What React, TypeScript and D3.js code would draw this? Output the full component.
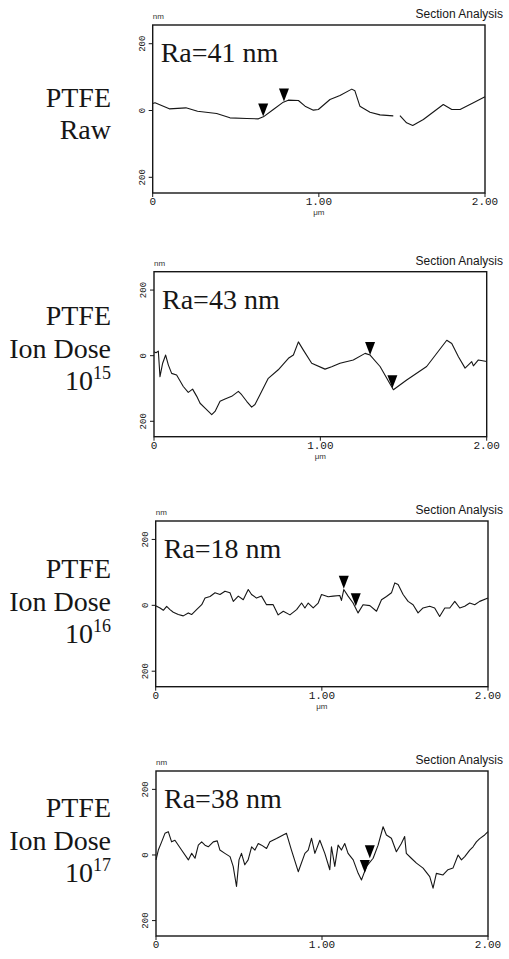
import React from "react";
import * as d3 from "d3";

type Pt = [number, number | null];

// ---- Data (x in µm, height in nm) ----
const rawProfile: Pt[] = [
  [0, 21], [0.014, 23], [0.1, 5], [0.2, 8], [0.27, -2], [0.385, -9], [0.465, -22],
  [0.566, -24], [0.636, -25], [0.666, -19], [0.726, 3], [0.786, 25], [0.816, 31],
  [0.877, 30], [0.917, 13], [0.967, 1], [0.997, 3], [1.067, 33], [1.127, 45],
  [1.198, 64], [1.217, 59], [1.247, 13], [1.308, -5], [1.368, -13], [1.448, -16],
  [1.468, null],
  [1.488, -15], [1.528, -37], [1.565, -45], [1.629, -27], [1.749, 18], [1.8, 3],
  [1.85, 3], [1.93, 23], [2.0, 41],
];
const dose15Profile: Pt[] = [
  [0, 12], [0.012, 9], [0.026, 14], [0.036, -64], [0.052, -23], [0.07, 2], [0.086, -28],
  [0.106, -54], [0.136, -59], [0.176, -94], [0.206, -112], [0.232, -102], [0.257, -124],
  [0.277, -145], [0.307, -160], [0.347, -180], [0.367, -170], [0.397, -139], [0.427, -132],
  [0.467, -124], [0.507, -109], [0.527, -119], [0.557, -139], [0.587, -157], [0.607, -149],
  [0.637, -119], [0.687, -69], [0.747, -43], [0.808, -8], [0.838, 2], [0.868, 42],
  [0.898, 17], [0.948, -23], [1.028, -41], [1.068, -34], [1.118, -23], [1.198, -13],
  [1.269, 7], [1.299, 2], [1.359, -33], [1.439, -104], [1.519, -74], [1.639, -33],
  [1.76, 47], [1.79, 37], [1.83, -3], [1.87, -38], [1.89, -28], [1.91, -18], [1.92, -31],
  [1.95, -13], [2.0, -18],
];
const dose16Profile: Pt[] = [
  [0, -1], [0.026, -8], [0.046, -15], [0.066, -3], [0.086, -13], [0.106, -21], [0.136, -28],
  [0.166, -32], [0.196, -23], [0.216, -28], [0.246, -13], [0.277, 2], [0.297, 22],
  [0.327, 27], [0.357, 38], [0.387, 33], [0.417, 43], [0.447, 38], [0.467, 12], [0.497, 28],
  [0.527, 17], [0.557, 48], [0.577, 33], [0.607, 22], [0.637, 28], [0.667, 2], [0.707, 2],
  [0.737, -29], [0.768, -18], [0.808, -29], [0.848, -13], [0.878, 7], [0.898, -8],
  [0.918, 7], [0.948, -8], [0.978, 7], [0.998, 33], [1.038, 26], [1.068, 28], [1.108, 30],
  [1.118, 15], [1.132, 48], [1.158, 28], [1.188, 7], [1.218, -23], [1.248, 2], [1.289, -1],
  [1.329, -18], [1.359, 17], [1.389, 27], [1.419, 38], [1.439, 68], [1.459, 63],
  [1.489, 33], [1.519, 12], [1.549, 2], [1.579, -23], [1.609, -8], [1.649, -3], [1.679, -8],
  [1.709, -34], [1.74, -8], [1.77, -8], [1.8, 12], [1.83, -8], [1.86, -3], [1.89, 7],
  [1.92, 2], [1.95, 12], [2.0, 22],
];
const dose17Profile: Pt[] = [
  [0, -15], [0.014, 15], [0.034, 40], [0.054, 66], [0.074, 71], [0.094, 40], [0.114, 45],
  [0.154, 15], [0.195, -15], [0.215, 5], [0.235, -10], [0.255, 30], [0.275, 40], [0.295, 30],
  [0.315, 25], [0.345, 40], [0.369, 43], [0.385, 15], [0.415, 5], [0.446, -5], [0.465, -35],
  [0.485, -96], [0.5, -15], [0.515, 5], [0.535, -30], [0.555, -15], [0.576, 25], [0.596, 15],
  [0.616, 35], [0.636, 30], [0.666, 20], [0.686, 40], [0.726, 50], [0.766, 61], [0.786, 66],
  [0.816, 15], [0.857, -51], [0.897, 5], [0.917, 15], [0.937, 51], [0.957, 5], [0.987, 45],
  [1.017, 5], [1.047, -45], [1.057, 25], [1.077, -35], [1.097, 30], [1.117, 15], [1.137, 35],
  [1.157, 5], [1.188, -15], [1.218, -56], [1.238, -76], [1.268, -35], [1.308, -10],
  [1.338, 30], [1.368, 86], [1.388, 61], [1.418, 51], [1.448, 10], [1.478, 35], [1.498, 56],
  [1.508, 5], [1.538, -10], [1.569, -25], [1.609, -40], [1.649, -66], [1.669, -101],
  [1.689, -56], [1.729, -61], [1.759, -45], [1.789, -40], [1.82, 0], [1.84, -15], [1.86, -5],
  [1.89, 15], [1.91, 25], [1.93, 40], [1.95, 50], [1.98, 61], [2.0, 71],
];

const rawMarkers: [number, number][] = [[0.665, -18], [0.79, 27]];
const dose15Markers: [number, number][] = [[1.299, 2], [1.433, -99]];
const dose16Markers: [number, number][] = [[1.132, 50], [1.204, -3]];
const dose17Markers: [number, number][] = [[1.258, -55], [1.288, -10]];

const roughnessLabels = ["Ra=41 nm", "Ra=43 nm", "Ra=18 nm", "Ra=38 nm"];
const sampleLines: string[][] = [
  ["PTFE", "Raw"],
  ["PTFE", "Ion Dose", "10|15"],
  ["PTFE", "Ion Dose", "10|16"],
  ["PTFE", "Ion Dose", "10|17"],
];
const xTicks = [0, 1, 2];
const xTickLabels = ["0", "1.00", "2.00"];
const yTicks = [200, 0, -200];
const yTickLabels = ["200", "0", "200"];
const xDomain: [number, number] = [0, 2];
const yDomain: [number, number] = [-247, 256];

// ---- Layout ----
const boxes = [
  { left: 152.7, top: 25, right: 485, bottom: 193, labelTop: 106.7, showUnit: true },
  { left: 154, top: 271.7, right: 486.7, bottom: 436.7, labelTop: 325, showUnit: true },
  { left: 155.7, top: 521, right: 488, bottom: 686.7, labelTop: 578, showUnit: true },
  { left: 156, top: 771, right: 488, bottom: 936, labelTop: 817, showUnit: false },
];
const profiles = [rawProfile, dose15Profile, dose16Profile, dose17Profile];
const markers = [rawMarkers, dose15Markers, dose16Markers, dose17Markers];

const INK = "#161616";
const SANS = "Liberation Sans, Arial, sans-serif";
const MONO = "Liberation Mono, Courier New, monospace";
const SERIF = "Liberation Serif, Times New Roman, serif";

function Panel({ i }: { i: number }) {
  const b = boxes[i];
  const x = d3.scaleLinear().domain(xDomain).range([b.left, b.right]);
  const y = d3.scaleLinear().domain(yDomain).range([b.bottom, b.top]);
  const line = d3
    .line<Pt>()
    .defined((d) => d[1] !== null)
    .x((d) => x(d[0]))
    .y((d) => y(d[1] as number));
  const tri = (mx: number, my: number) => {
    const px = x(mx);
    const py = y(my);
    return `M${px},${py}L${px - 5},${py - 13}L${px + 5},${py - 13}Z`;
  };
  const lines = sampleLines[i];
  return (
    <g>
      {/* sample label */}
      {lines.map((t, k) => {
        const yy = b.labelTop + k * 32.5;
        if (t.includes("|")) {
          const [base, sup] = t.split("|");
          return (
            <text key={k} x={111} y={yy} textAnchor="end" fontFamily={SERIF} fontSize={28} fill={INK}>
              <tspan>{base}</tspan>
              <tspan fontSize={18} dy={-11}>{sup}</tspan>
            </text>
          );
        }
        return (
          <text key={k} x={111} y={yy} textAnchor="end" fontFamily={SERIF} fontSize={28} fill={INK}>
            {t}
          </text>
        );
      })}
      {/* headers */}
      <text x={503} y={b.top - 7} textAnchor="end" fontFamily={SANS} fontSize={12} fill={INK}>
        Section Analysis
      </text>
      <text x={b.left} y={b.top - 6} fontFamily={SANS} fontSize={8} fill="#333">
        nm
      </text>
      {/* frame */}
      <rect
        x={b.left}
        y={b.top}
        width={b.right - b.left}
        height={b.bottom - b.top}
        fill="none"
        stroke={INK}
        strokeWidth={1.4}
      />
      {/* y ticks */}
      {yTicks.map((t, k) => (
        <g key={k}>
          <line x1={b.left - 4} x2={b.left} y1={y(t)} y2={y(t)} stroke={INK} strokeWidth={1} />
          <text
            transform={`translate(${b.left - 8},${y(t)}) rotate(-90)`}
            textAnchor="middle"
            fontFamily={MONO}
            fontSize={9}
            fill={INK}
          >
            {yTickLabels[k]}
          </text>
        </g>
      ))}
      {/* x ticks */}
      {xTicks.map((t, k) => (
        <g key={k}>
          <line x1={x(t)} x2={x(t)} y1={b.bottom} y2={b.bottom + 4} stroke={INK} strokeWidth={1} />
          <text x={x(t)} y={b.bottom + 12} textAnchor="middle" fontFamily={MONO} fontSize={11} fill={INK}>
            {xTickLabels[k]}
          </text>
        </g>
      ))}
      {b.showUnit && (
        <text x={x(1)} y={b.bottom + 22} textAnchor="middle" fontFamily={SANS} fontSize={8} fill="#333">
          μm
        </text>
      )}
      {/* roughness label */}
      <text x={b.left + 8} y={b.top + 37} fontFamily={SERIF} fontSize={28} fill={INK}>
        {roughnessLabels[i]}
      </text>
      {/* profile */}
      <path d={line(profiles[i]) || ""} fill="none" stroke={INK} strokeWidth={1.1} strokeLinejoin="round" />
      {/* cursors */}
      {markers[i].map((m, k) => (
        <path key={k} d={tri(m[0], m[1])} fill="#000" />
      ))}
    </g>
  );
}

export default function App() {
  return (
    <svg
      width={509}
      height={959}
      viewBox="0 0 509 959"
      style={{ position: "absolute", left: 0, top: 0, background: "#fff" }}
    >
      <rect x={0} y={0} width={509} height={959} fill="#fff" />
      {boxes.map((_, i) => (
        <Panel key={i} i={i} />
      ))}
    </svg>
  );
}
